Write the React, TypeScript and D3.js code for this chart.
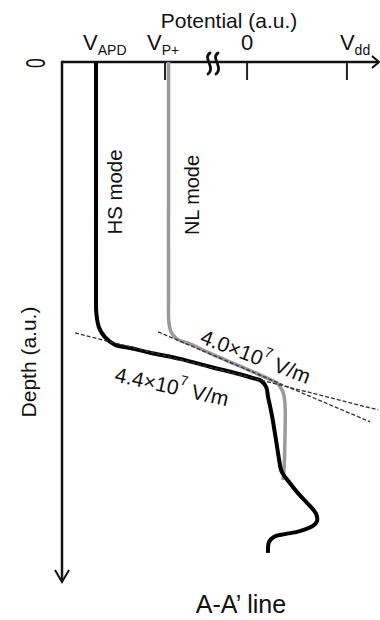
import React, { useEffect, useRef } from 'react';
import * as d3 from 'd3';

// Potential (a.u.) and depth (a.u.), both on a 0-100 scale
const hsPotential = [10.7, 10.7, 10.7, 10.8, 11.6, 13.5, 16.7, 21.4, 27.7, 37.1, 46.5, 54.4, 60.7, 62.6, 64.2, 64.8, 66.0, 67.3, 68.2, 69.1, 71.7, 74.2, 77.4, 79.9, 80.2, 78.9, 74.8, 70.1, 66.7, 65.1, 64.8, 64.8];
const hsDepth = [0, 26.5, 45.8, 48.3, 51.0, 52.9, 54.4, 55.0, 55.9, 57.1, 58.6, 59.8, 60.9, 61.3, 62.5, 64.4, 67.9, 72.7, 76.2, 78.8, 81.0, 82.9, 85.0, 86.9, 88.3, 89.2, 90.2, 90.8, 91.3, 92.3, 93.3, 94.4];

const nlPotential = [33.5, 33.5, 33.5, 33.6, 34.3, 36.2, 40.3, 46.5, 56.0, 63.8, 67.9, 69.5, 70.1, 70.1, 69.8, 69.5];
const nlDepth = [0, 26.5, 45.8, 50.0, 51.9, 53.3, 54.2, 56.0, 58.5, 60.6, 61.9, 63.5, 65.6, 72.7, 78.5, 80.4];

// tangent lines (field fits): [potential, depth] end points
const hsFit = [[4.1, 52.1], [99.4, 66.9]];
const nlFit = [[30.2, 51.9], [96.9, 69.2]];

const tickValues = [10.7, 32.4, 58.2, 89.6];
const tickMain = ['V', 'V', '0', 'V'];
const tickSub = ['APD', 'P+', '', 'dd'];
const breakAt = 47.5;

const FONT = '"Liberation Sans", Arial, sans-serif';

const PotentialProfile = () => {
  const ref = useRef<SVGSVGElement | null>(null);

  useEffect(() => {
    if (ref.current) draw(ref.current);
  }, []);

  return (
    <svg ref={ref} width={380} height={620}
      style={{ position: 'absolute', left: 0, top: 0, background: '#fff' }} />
  );
};

function draw(el: SVGSVGElement) {
  const svg = d3.select(el);
  svg.selectAll('*').remove();

  const x = d3.scaleLinear().domain([0, 100]).range([62, 380]);
  const y = d3.scaleLinear().domain([0, 100]).range([62, 582]);

  const line = d3.line<[number, number]>()
    .x(d => x(d[0]))
    .y(d => y(d[1]))
    .curve(d3.curveCatmullRom.alpha(0.5));

  // axes
  svg.append('line')
    .attr('x1', x(0)).attr('x2', x(100) - 1)
    .attr('y1', y(0)).attr('y2', y(0))
    .attr('stroke', '#111').attr('stroke-width', 2.5);
  svg.append('line')
    .attr('x1', x(0)).attr('x2', x(0))
    .attr('y1', y(0) - 1.2).attr('y2', y(100) - 1)
    .attr('stroke', '#111').attr('stroke-width', 2.5);

  // arrow heads
  svg.append('path')
    .attr('d', `M${x(100) - 8},${y(0) - 6}L${x(100) - 1},${y(0)}L${x(100) - 8},${y(0) + 6}`)
    .attr('fill', 'none').attr('stroke', '#111').attr('stroke-width', 2);
  svg.append('path')
    .attr('d', `M${x(0) - 7},${y(100) - 12}L${x(0)},${y(100)}L${x(0) + 7},${y(100) - 12}`)
    .attr('fill', 'none').attr('stroke', '#111').attr('stroke-width', 2);

  // ticks
  svg.selectAll('.tick')
    .data(tickValues)
    .enter().append('line')
    .attr('x1', d => x(d)).attr('x2', d => x(d))
    .attr('y1', y(0)).attr('y2', y(0) + 18)
    .attr('stroke', '#222').attr('stroke-width', 2);

  // axis break (two vertical tildes)
  const bx = x(breakAt);
  [-4, 4].forEach(off => {
    const cx = bx + off;
    svg.append('path')
      .attr('d', `M${cx + 1},${y(0) - 9} C${cx - 7},${y(0) - 4} ${cx + 7},${y(0) + 5} ${cx - 1},${y(0) + 12}`)
      .attr('fill', 'none').attr('stroke', '#111').attr('stroke-width', 2.8)
      .attr('stroke-linecap', 'round');
  });

  // tick labels
  const labelDx = [-13, -18, 0, -7];
  tickValues.forEach((v, i) => {
    const t = svg.append('text')
      .attr('x', x(v) + labelDx[i])
      .attr('y', 50)
      .attr('font-family', FONT)
      .attr('font-size', 22)
      .attr('fill', '#111')
      .attr('text-anchor', tickSub[i] ? 'start' : 'middle');
    t.append('tspan').text(tickMain[i]);
    if (tickSub[i]) {
      t.append('tspan').attr('font-size', 14).attr('dy', 5).text(tickSub[i]);
    }
  });

  // curves
  const nl = nlPotential.map((p, i) => [p, nlDepth[i]] as [number, number]);
  const hs = hsPotential.map((p, i) => [p, hsDepth[i]] as [number, number]);

  svg.append('path')
    .attr('d', line(nl))
    .attr('fill', 'none').attr('stroke', '#9a9a9a').attr('stroke-width', 3.5);
  svg.append('path')
    .attr('d', line(hs))
    .attr('fill', 'none').attr('stroke', '#000').attr('stroke-width', 4)
    .attr('stroke-linejoin', 'round');

  // field fit lines
  [hsFit, nlFit].forEach(f => {
    svg.append('line')
      .attr('x1', x(f[0][0])).attr('y1', y(f[0][1]))
      .attr('x2', x(f[1][0])).attr('y2', y(f[1][1]))
      .attr('stroke', '#333').attr('stroke-width', 1.3)
      .attr('stroke-dasharray', '4,2');
  });

  const txt = (sx: number, sy: number, rot: number, size: number) =>
    svg.append('text')
      .attr('transform', `translate(${sx},${sy}) rotate(${rot})`)
      .attr('font-family', FONT)
      .attr('font-size', size)
      .attr('fill', '#111')
      .attr('text-anchor', 'middle')
      .attr('dominant-baseline', 'central');

  // titles
  txt(229, 20, 0, 21).text('Potential (a.u.)');
  txt(28, 362, -90, 21).text('Depth (a.u.)');
  svg.append('text')
    .attr('x', 241).attr('y', 613)
    .attr('font-family', FONT).attr('font-size', 25).attr('fill', '#111')
    .attr('text-anchor', 'middle')
    .text('A-A\u2019 line');

  svg.append('text')
    .attr('transform', 'translate(36,63) rotate(-90) scale(0.65,1)')
    .attr('font-family', FONT).attr('font-size', 27).attr('fill', '#111')
    .attr('text-anchor', 'middle').attr('dominant-baseline', 'central')
    .text('0');

  // mode labels
  txt(114, 192, -90, 21).attr('textLength', 85).attr('lengthAdjust', 'spacingAndGlyphs').text('HS mode');
  txt(191, 195, -90, 21).attr('textLength', 80).attr('lengthAdjust', 'spacingAndGlyphs').text('NL mode');

  // field labels
  const field = (sx: number, sy: number, rot: number, mant: string) => {
    const t = txt(sx, sy, rot, 21);
    t.append('tspan').text(`${mant}\u00d710`);
    t.append('tspan').attr('font-size', 14).attr('dy', -8).text('7');
    t.append('tspan').attr('dy', 8).text(' V/m');
  };
  field(256, 356, 21, '4.0');
  field(172, 386, 12.6, '4.4');
}

export default function App() {
  return <PotentialProfile />;
}
